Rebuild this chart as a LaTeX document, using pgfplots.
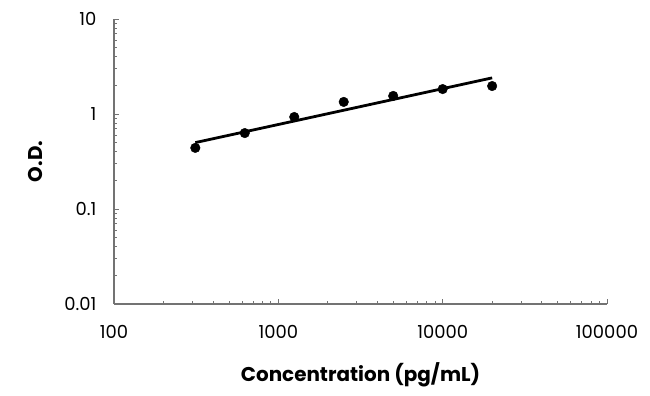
\documentclass[border=0pt]{standalone}
\usepackage{pgfplots}
\pgfplotsset{compat=1.18}
\usepackage{fontspec}
\setmainfont{Poppins}
\begin{document}
\begin{tikzpicture}[x=1bp,y=1bp]
\begin{axis}[
  scale only axis,
  width=493bp, height=285bp,
  xmode=log, ymode=log,
  xmin=100, xmax=100000, ymin=0.01, ymax=10,
  axis lines=left,
  axis line style={-, draw=black!55, line width=1.2pt},
  tick style={draw=black!55, line width=0.7pt},
  tick align=inside,
  major tick length=5bp, minor tick length=3.5bp,
  xtick={100,1000,10000,100000},
  ytick={0.01,0.1,1,10},
  xticklabels={100,1000,10000,100000},
  yticklabels={0.01,0.1,1,10},
  ticklabel style={font=\fontsize{18}{20}\selectfont},
  xticklabel style={anchor=center, yshift=-28bp},
  yticklabel style={anchor=east, xshift=-14bp},
  xlabel={\textbf{Concentration (pg/mL)}},
  ylabel={\textbf{O.D.}},
  label style={font=\fontsize{20}{22}\selectfont},
  xlabel style={at={(axis description cs:0.5,0)}, anchor=center, yshift=-71bp},
  ylabel style={at={(axis description cs:0,0.5)}, anchor=center, rotate=0, yshift=79bp},
  clip=false,
]
\addplot[only marks, mark=*, mark size=4.8bp, black] coordinates {
  (312.5,0.44) (625,0.63) (1250,0.93) (2500,1.34) (5000,1.55) (10000,1.83) (20000,1.97)
};
\addplot[black, line width=2.8pt] coordinates {
  (312.5,0.50) (20000,2.40)
};
\coordinate (ll) at (rel axis cs:0,0);
\coordinate (ur) at (rel axis cs:1,1);
\end{axis}
\pgfresetboundingbox
\path ([xshift=-114bp,yshift=-92bp]ll) rectangle ([xshift=43bp,yshift=19bp]ur);
\end{tikzpicture}
\end{document}
